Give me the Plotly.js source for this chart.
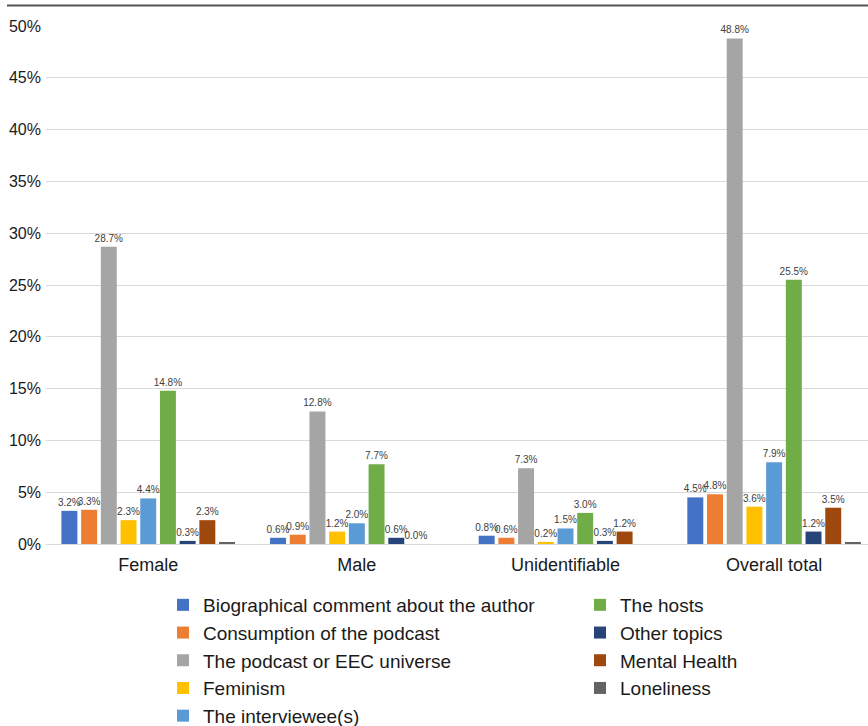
<!DOCTYPE html>
<html>
<head>
<meta charset="utf-8">
<script src="https://cdn.plot.ly/plotly-3.0.1.min.js"></script>
<style>
  html, body { margin: 0; padding: 0; background: #ffffff; }
  #chart { width: 868px; height: 726px; }
</style>
</head>
<body>
<div id="chart"></div>
<script>
// Share of comments by topic, split by commenter gender (values in %)
const groups = ["Female", "Male", "Unidentifiable", "Overall total"];

const biographical = [3.2, 0.6, 0.8, 4.5];
const consumption  = [3.3, 0.9, 0.6, 4.8];
const podcastEEC   = [28.7, 12.8, 7.3, 48.8];
const feminism     = [2.3, 1.2, 0.2, 3.6];
const interviewee  = [4.4, 2.0, 1.5, 7.9];
const hosts        = [14.8, 7.7, 3.0, 25.5];
const otherTopics  = [0.3, 0.6, 0.3, 1.2];
const mentalHealth = [2.3, 0.0, 1.2, 3.5];
const loneliness   = [0.1, 0, 0, 0.1];

const seriesNames = [
  "Biographical comment about the author",
  "Consumption of the podcast",
  "The podcast or EEC universe",
  "Feminism",
  "The interviewee(s)",
  "The hosts",
  "Other topics",
  "Mental Health",
  "Loneliness"
];
const seriesValues = [biographical, consumption, podcastEEC, feminism,
                      interviewee, hosts, otherTopics, mentalHealth, loneliness];
const seriesColors = ["#4472C4", "#ED7D31", "#A5A5A5", "#FFC000",
                      "#5B9BD5", "#70AD47", "#264478", "#9E480E", "#636363"];
// Loneliness bars carry no value labels
const showLabels = [true, true, true, true, true, true, true, true, false];

const FONT = "Liberation Sans, Arial, Helvetica, sans-serif";

const traces = seriesNames.map((name, i) => ({
  type: "bar",
  name: name,
  x: groups,
  y: seriesValues[i],
  marker: { color: seriesColors[i], line: { width: 0 } },
  text: showLabels[i] ? seriesValues[i].map(v => v.toFixed(1) + "%") : null,
  textposition: showLabels[i] ? "outside" : "none",
  textfont: { family: FONT, size: 10, color: "#404040" },
  constraintext: "none",
  cliponaxis: false,
  hoverinfo: "x+y+name",
  legend: i < 5 ? "legend" : "legend2",
  legendgroup: "g" + i
}));

// plot area in pixels: left 46, right 868, top 26, bottom 544
const L = 46, R = 0, T = 26, B = 182;
const W = 868 - L - R, H = 726 - T - B;
const px = x => (x - L) / W;
const py = y => (726 - B - y) / H;

const legendCommon = {
  font: { family: FONT, size: 19, color: "#1a1a1a" },
  bgcolor: "rgba(0,0,0,0)",
  borderwidth: 0,
  orientation: "v",
  traceorder: "grouped",
  tracegroupgap: 0,
  xanchor: "left",
  yanchor: "top",
  itemclick: false,
  itemdoubleclick: false
};

const layout = {
  width: 868,
  height: 726,
  margin: { l: L, r: R, t: T, b: B, pad: 0, autoexpand: false },
  paper_bgcolor: "#ffffff",
  plot_bgcolor: "#ffffff",
  font: { family: FONT, color: "#222222" },
  barmode: "group",
  bargap: 0.15,
  bargroupgap: 0.19,
  xaxis: {
    type: "category",
    range: [-0.49, 3.45],
    showgrid: false,
    showline: false,
    zeroline: false,
    ticks: "",
    ticklabelstandoff: 8,
    tickfont: { family: FONT, size: 18, color: "#1a1a1a" },
    fixedrange: true
  },
  yaxis: {
    range: [0, 50],
    dtick: 5,
    tick0: 0,
    ticksuffix: "%",
    showgrid: true,
    gridcolor: "#d9d9d9",
    gridwidth: 1,
    zeroline: true,
    zerolinecolor: "#d9d9d9",
    zerolinewidth: 1,
    showline: false,
    ticks: "",
    ticklabelstandoff: 4,
    tickfont: { family: FONT, size: 16, color: "#1a1a1a" },
    fixedrange: true
  },
  legend: Object.assign({}, legendCommon, { x: px(163), y: py(586) }),
  legend2: Object.assign({}, legendCommon, { x: px(580), y: py(586) }),
  shapes: [{
    type: "line",
    xref: "paper", yref: "paper",
    x0: px(7), x1: px(868),
    y0: py(5.5), y1: py(5.5),
    line: { color: "#555555", width: 2 }
  }],
  showlegend: true
};

Plotly.newPlot("chart", traces, layout, { displayModeBar: false, staticPlot: false });
</script>
</body>
</html>
